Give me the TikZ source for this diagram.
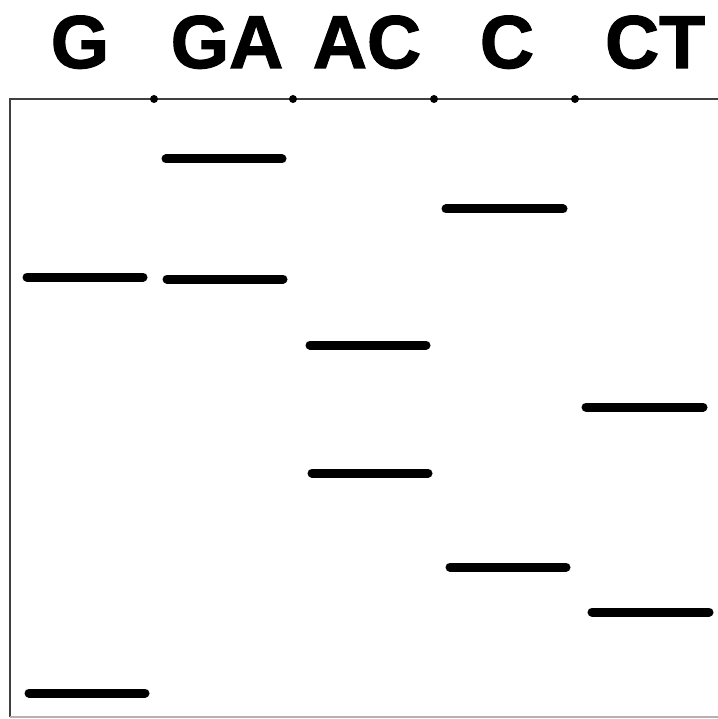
\documentclass[tikz,border=0pt]{standalone}
\usepackage{fontspec}
\setmainfont{Liberation Sans}
\newfontfamily\gelfont[BoldFont={Liberation Sans Bold},BoldFeatures={FakeBold=1.6}]{Liberation Sans}
\usepackage{tikz}
\usetikzlibrary{calc}
\tikzset{
  lanelabel/.style={anchor=base,inner sep=0pt,font=\gelfont\bfseries\fontsize{75}{75}\selectfont},
  band/.style={line width=9pt,line cap=round},
  well/.style={fill=black,radius=4pt}
}

\begin{document}
\begin{tikzpicture}[x=1pt,y=-1pt]
      \useasboundingbox (0,0) rectangle (717,719);
      % gel frame, open on the right
      \draw[line width=2pt,black!75] (720,99) -- (10,99) -- (10,717);
      \draw[line width=2pt,black!30] (10,717) -- (720,717);
      \foreach \x in {154,293,434,575} \fill[well] (\x,99) circle;
      % lane labels
      \node[lanelabel] (g) at (80,68) {G};
      \node[lanelabel] (ga) at (227,68) {GA};
      \node[lanelabel] (ac) at (367,68) {AC};
      \node[lanelabel] (c) at (507,68) {C};
      \node[lanelabel] (ct) at (655,68) {CT};
      % bands: x start, x end, y
      \foreach \a/\b/\y in {27/143/277, 29/145/693,
                            166/282/159, 167/283/279,
                            310/426/345, 312/428/473,
                            446/563/209, 450/566/567,
                            586/703/407, 592/709/612}
        \draw[band] (\a,\y) -- (\b,\y);
\end{tikzpicture}
\end{document}
